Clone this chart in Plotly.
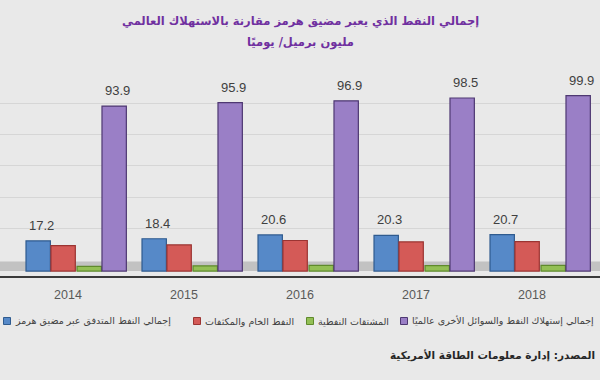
import plotly.graph_objects as go

years = ["2014", "2015", "2016", "2017", "2018"]
hormuz_total = [17.2, 18.4, 20.6, 20.3, 20.7]
crude_condensate = [14.5, 14.9, 17.4, 16.6, 16.8]
products = [2.7, 3.0, 3.2, 3.1, 3.3]
world_consumption = [93.9, 95.9, 96.9, 98.5, 99.9]

names = [
    "إجمالي النفط المتدفق عبر مضيق هرمز",
    "النفط الخام والمكثفات",
    "المشتقات النفطية",
    "إجمالي إستهلاك النفط والسوائل الأخرى عالميًا",
]
title_line1 = "إجمالي النفط الذي يعبر مضيق هرمز مقارنة بالاستهلاك العالمي"
title_line2 = "مليون برميل/ يوميًا"
source_text = "المصدر: إدارة معلومات الطاقة الأمريكية"

W, H = 600, 380
MT, MB = 62, 104

fills = ["#5689c8", "#d45a57", "#93bf55", "#9a7fc6"]
edges = ["#2f5b8f", "#9b3432", "#5f8a2c", "#4e3872"]
offsets = [-0.362, -0.147, 0.078, 0.293]
bar_w = 0.21
series = [hormuz_total, crude_condensate, products, world_consumption]
labelled = [True, False, False, True]

fig = go.Figure()
for vals, nm, fc, ec, off in zip(series, names, fills, edges, offsets):
    fig.add_trace(go.Bar(
        x=years, y=vals, name=nm,
        marker=dict(color=fc, line=dict(color=ec, width=1.2)),
        width=bar_w, offset=off,
        showlegend=False,
    ))

# data labels above blue and purple bars
for vals, off, lab in zip(series, offsets, labelled):
    if not lab:
        continue
    for i, v in enumerate(vals):
        fig.add_annotation(x=i + off + bar_w / 2 + 0.03, y=v, xref="x", yref="y",
                           text=f"{v:.1f}", showarrow=False, yanchor="bottom", yshift=6,
                           font=dict(family="Liberation Sans", size=13, color="#404040"))

# floor band behind bars
fig.add_shape(type="rect", xref="paper", yref="y", x0=0, x1=1, y0=0, y1=5.5,
              fillcolor="#c2c2c2", line=dict(width=0), layer="below")


def px2paper_x(px):
    return px / W


def px2paper_y(py):
    return (H - MB - py) / (H - MT - MB)


# legend (manual, to match positions)
leg_x = [7, 197, 310, 404]
for (px, nm, fc, ec) in zip(leg_x, names, fills, edges):
    fig.add_shape(type="rect", xref="paper", yref="paper",
                  x0=px2paper_x(px - 3.5), x1=px2paper_x(px + 3.5),
                  y0=px2paper_y(321 + 3.5), y1=px2paper_y(321 - 3.5),
                  fillcolor=fc, line=dict(color=ec, width=1))
    fig.add_annotation(x=px2paper_x(px + 6), y=px2paper_y(321), xref="paper", yref="paper",
                       text=nm, showarrow=False, xanchor="left", yanchor="middle",
                       font=dict(family="DejaVu Sans", size=9.5, color="#404040"))

fig.add_annotation(x=0.5, y=px2paper_y(21), xref="paper", yref="paper",
                   text=f"<b>{title_line1}</b>", showarrow=False, xanchor="center", yanchor="middle",
                   font=dict(family="DejaVu Sans", size=11.5, color="#7030a0"))
fig.add_annotation(x=0.5, y=px2paper_y(42), xref="paper", yref="paper",
                   text=f"<b>{title_line2}</b>", showarrow=False, xanchor="center", yanchor="middle",
                   font=dict(family="DejaVu Sans", size=11.5, color="#7030a0"))
fig.add_annotation(x=px2paper_x(597), y=px2paper_y(355), xref="paper", yref="paper",
                   text=f"<b>{source_text}</b>", showarrow=False, xanchor="right", yanchor="middle",
                   font=dict(family="DejaVu Sans", size=10.5, color="#262626"))

fig.update_layout(
    width=W, height=H, autosize=False,
    margin=dict(l=0, r=0, t=MT, b=MB),
    paper_bgcolor="#e9e9e9", plot_bgcolor="rgba(0,0,0,0)",
    barmode="overlay",
    showlegend=False,
    hovermode=False,
    xaxis=dict(range=[-68 / 116, 532 / 116], showline=True, linecolor="#3a3a3a", linewidth=2,
               ticks="", showgrid=False, zeroline=False,
               tickfont=dict(family="Liberation Sans", size=12.5, color="#595959"),
               ticklabelstandoff=6),
    yaxis=dict(range=[-2.8, 119], showticklabels=False, zeroline=False,
               tickvals=[24.5, 42, 60, 77.5, 95.5], gridcolor="#d6d6d6", gridwidth=1,
               showline=False),
)

fig.write_html("out.html", config={"displayModeBar": False},
               post_script="document.body.style.margin='0';")
